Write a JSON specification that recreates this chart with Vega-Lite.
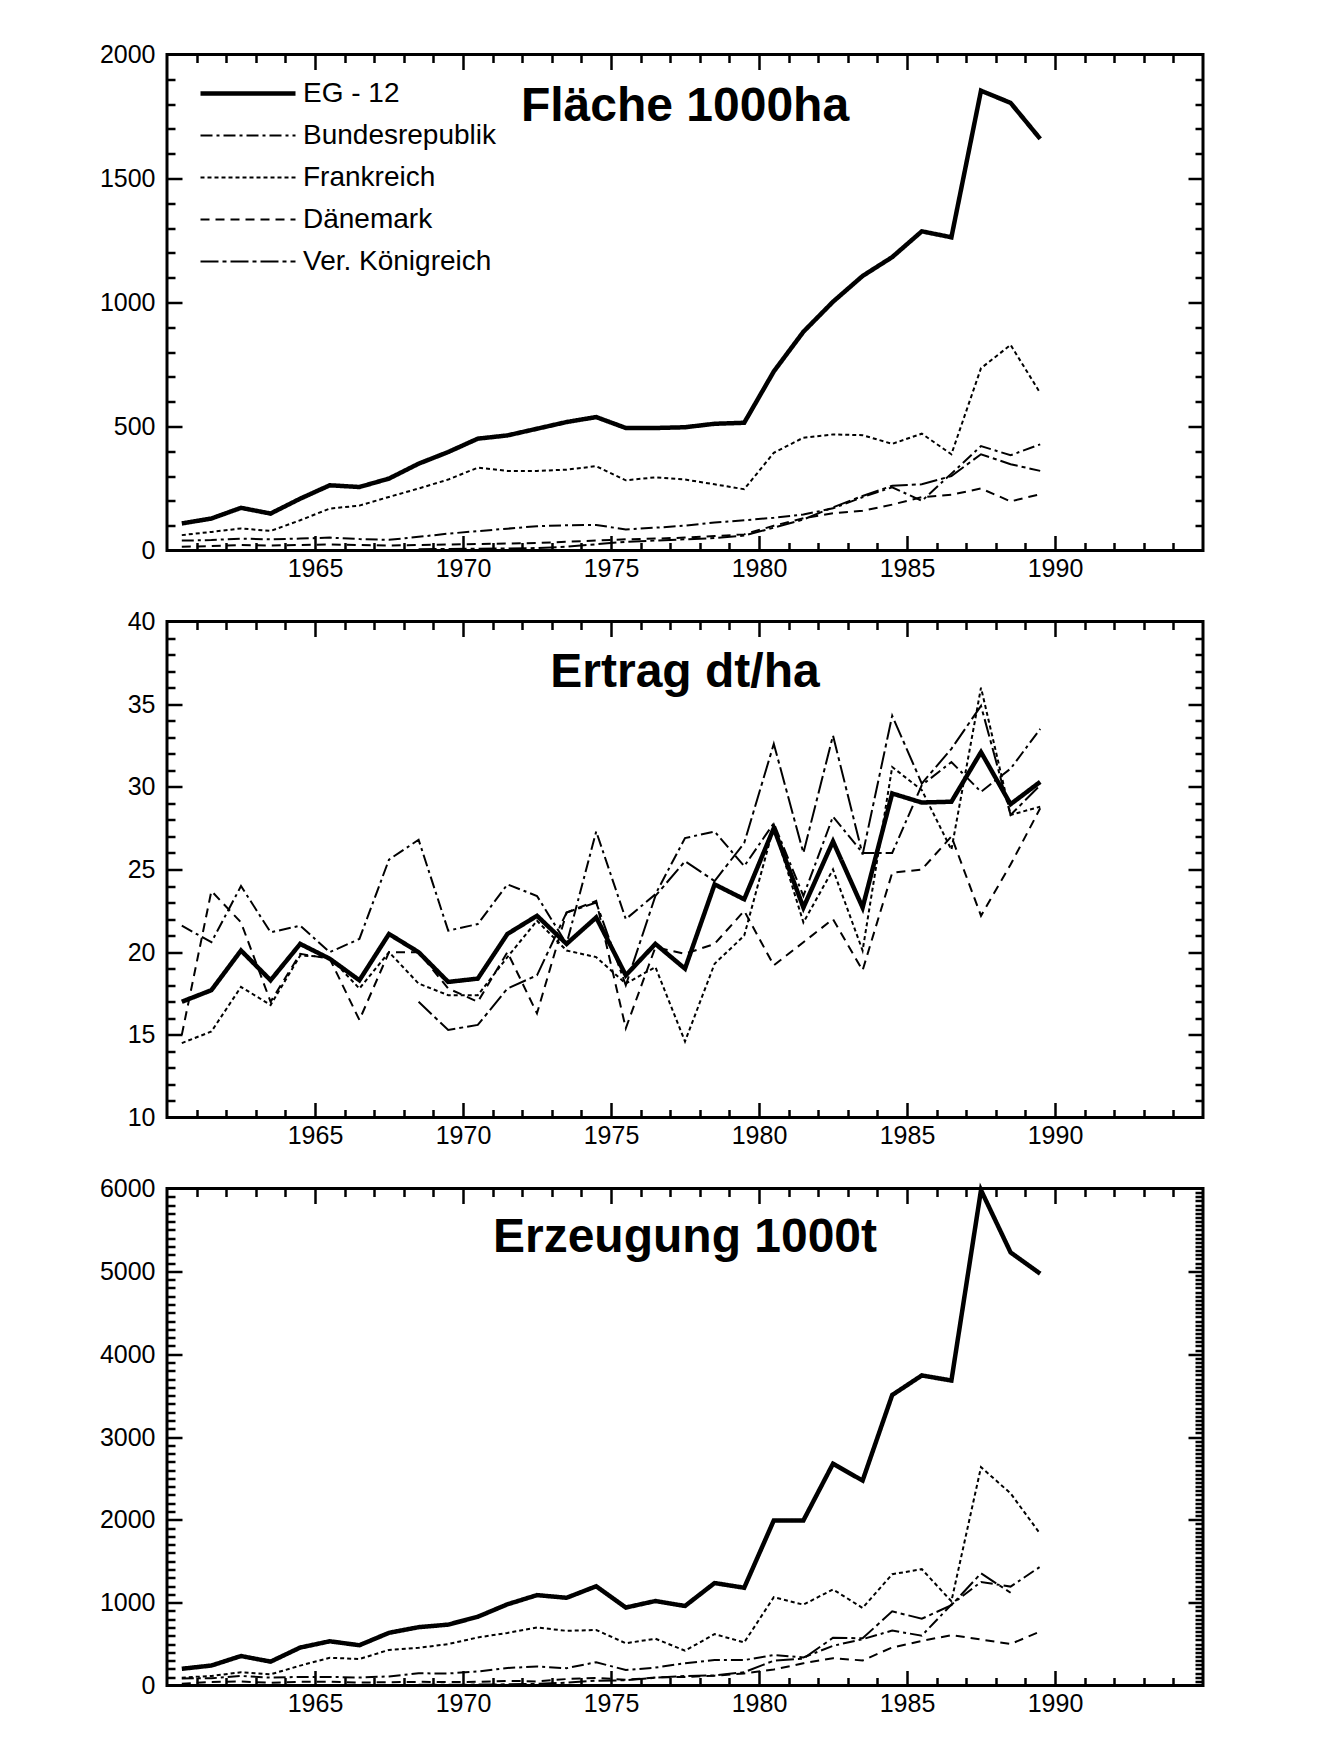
{
  "$schema": "https://vega.github.io/schema/vega-lite/v6.json",
  "background": "white",
  "padding": {"left": 97, "top": 40.5, "right": 0, "bottom": 0},
  "bounds": "flush",
  "spacing": 71,
  "config": {
    "font": "Liberation Sans",
    "view": {"stroke": "black", "strokeWidth": 3},
    "axis": {"domain": false, "grid": false, "labelFont": "Liberation Sans", "labelFontSize": 25, "labelColor": "black", "tickColor": "black", "tickWidth": 2.5, "labelFlush": false, "labelOverlap": false, "title": null},
    "title": {"font": "Liberation Sans", "fontSize": 48, "fontWeight": "bold", "color": "black", "anchor": "middle", "frame": "group", "baseline": "middle"}
  },
  "resolve": {"legend": {"strokeDash": "independent", "strokeWidth": "independent"}},
  "datasets": {
    "flaeche": [
      {"jahr":1960.5,"land":"EG - 12","wert":109},{"jahr":1961.5,"land":"EG - 12","wert":129},{"jahr":1962.5,"land":"EG - 12","wert":172},{"jahr":1963.5,"land":"EG - 12","wert":149},{"jahr":1964.5,"land":"EG - 12","wert":209},{"jahr":1965.5,"land":"EG - 12","wert":263},{"jahr":1966.5,"land":"EG - 12","wert":256},{"jahr":1967.5,"land":"EG - 12","wert":290},{"jahr":1968.5,"land":"EG - 12","wert":350},{"jahr":1969.5,"land":"EG - 12","wert":397},{"jahr":1970.5,"land":"EG - 12","wert":451},{"jahr":1971.5,"land":"EG - 12","wert":464},{"jahr":1972.5,"land":"EG - 12","wert":491},{"jahr":1973.5,"land":"EG - 12","wert":518},{"jahr":1974.5,"land":"EG - 12","wert":538},{"jahr":1975.5,"land":"EG - 12","wert":494},{"jahr":1976.5,"land":"EG - 12","wert":494},{"jahr":1977.5,"land":"EG - 12","wert":497},{"jahr":1978.5,"land":"EG - 12","wert":511},{"jahr":1979.5,"land":"EG - 12","wert":515},{"jahr":1980.5,"land":"EG - 12","wert":722},{"jahr":1981.5,"land":"EG - 12","wert":882},{"jahr":1982.5,"land":"EG - 12","wert":1003},{"jahr":1983.5,"land":"EG - 12","wert":1107},{"jahr":1984.5,"land":"EG - 12","wert":1183},{"jahr":1985.5,"land":"EG - 12","wert":1287},{"jahr":1986.5,"land":"EG - 12","wert":1263},{"jahr":1987.5,"land":"EG - 12","wert":1854},{"jahr":1988.5,"land":"EG - 12","wert":1805},{"jahr":1989.5,"land":"EG - 12","wert":1660},
      {"jahr":1960.5,"land":"Bundesrepublik","wert":40},{"jahr":1961.5,"land":"Bundesrepublik","wert":42},{"jahr":1962.5,"land":"Bundesrepublik","wert":48},{"jahr":1963.5,"land":"Bundesrepublik","wert":45},{"jahr":1964.5,"land":"Bundesrepublik","wert":48},{"jahr":1965.5,"land":"Bundesrepublik","wert":52},{"jahr":1966.5,"land":"Bundesrepublik","wert":46},{"jahr":1967.5,"land":"Bundesrepublik","wert":43},{"jahr":1968.5,"land":"Bundesrepublik","wert":55},{"jahr":1969.5,"land":"Bundesrepublik","wert":68},{"jahr":1970.5,"land":"Bundesrepublik","wert":78},{"jahr":1971.5,"land":"Bundesrepublik","wert":88},{"jahr":1972.5,"land":"Bundesrepublik","wert":98},{"jahr":1973.5,"land":"Bundesrepublik","wert":102},{"jahr":1974.5,"land":"Bundesrepublik","wert":103},{"jahr":1975.5,"land":"Bundesrepublik","wert":85},{"jahr":1976.5,"land":"Bundesrepublik","wert":92},{"jahr":1977.5,"land":"Bundesrepublik","wert":100},{"jahr":1978.5,"land":"Bundesrepublik","wert":113},{"jahr":1979.5,"land":"Bundesrepublik","wert":122},{"jahr":1980.5,"land":"Bundesrepublik","wert":132},{"jahr":1981.5,"land":"Bundesrepublik","wert":145},{"jahr":1982.5,"land":"Bundesrepublik","wert":170},{"jahr":1983.5,"land":"Bundesrepublik","wert":215},{"jahr":1984.5,"land":"Bundesrepublik","wert":255},{"jahr":1985.5,"land":"Bundesrepublik","wert":200},{"jahr":1986.5,"land":"Bundesrepublik","wert":310},{"jahr":1987.5,"land":"Bundesrepublik","wert":421},{"jahr":1988.5,"land":"Bundesrepublik","wert":384},{"jahr":1989.5,"land":"Bundesrepublik","wert":428},
      {"jahr":1960.5,"land":"Frankreich","wert":62},{"jahr":1961.5,"land":"Frankreich","wert":75},{"jahr":1962.5,"land":"Frankreich","wert":89},{"jahr":1963.5,"land":"Frankreich","wert":79},{"jahr":1964.5,"land":"Frankreich","wert":122},{"jahr":1965.5,"land":"Frankreich","wert":169},{"jahr":1966.5,"land":"Frankreich","wert":181},{"jahr":1967.5,"land":"Frankreich","wert":216},{"jahr":1968.5,"land":"Frankreich","wert":250},{"jahr":1969.5,"land":"Frankreich","wert":286},{"jahr":1970.5,"land":"Frankreich","wert":334},{"jahr":1971.5,"land":"Frankreich","wert":321},{"jahr":1972.5,"land":"Frankreich","wert":321},{"jahr":1973.5,"land":"Frankreich","wert":326},{"jahr":1974.5,"land":"Frankreich","wert":340},{"jahr":1975.5,"land":"Frankreich","wert":283},{"jahr":1976.5,"land":"Frankreich","wert":295},{"jahr":1977.5,"land":"Frankreich","wert":286},{"jahr":1978.5,"land":"Frankreich","wert":267},{"jahr":1979.5,"land":"Frankreich","wert":247},{"jahr":1980.5,"land":"Frankreich","wert":394},{"jahr":1981.5,"land":"Frankreich","wert":455},{"jahr":1982.5,"land":"Frankreich","wert":468},{"jahr":1983.5,"land":"Frankreich","wert":465},{"jahr":1984.5,"land":"Frankreich","wert":430},{"jahr":1985.5,"land":"Frankreich","wert":471},{"jahr":1986.5,"land":"Frankreich","wert":388},{"jahr":1987.5,"land":"Frankreich","wert":735},{"jahr":1988.5,"land":"Frankreich","wert":829},{"jahr":1989.5,"land":"Frankreich","wert":635},
      {"jahr":1960.5,"land":"Dänemark","wert":15},{"jahr":1961.5,"land":"Dänemark","wert":18},{"jahr":1962.5,"land":"Dänemark","wert":22},{"jahr":1963.5,"land":"Dänemark","wert":20},{"jahr":1964.5,"land":"Dänemark","wert":22},{"jahr":1965.5,"land":"Dänemark","wert":24},{"jahr":1966.5,"land":"Dänemark","wert":22},{"jahr":1967.5,"land":"Dänemark","wert":20},{"jahr":1968.5,"land":"Dänemark","wert":22},{"jahr":1969.5,"land":"Dänemark","wert":24},{"jahr":1970.5,"land":"Dänemark","wert":26},{"jahr":1971.5,"land":"Dänemark","wert":28},{"jahr":1972.5,"land":"Dänemark","wert":30},{"jahr":1973.5,"land":"Dänemark","wert":35},{"jahr":1974.5,"land":"Dänemark","wert":40},{"jahr":1975.5,"land":"Dänemark","wert":45},{"jahr":1976.5,"land":"Dänemark","wert":48},{"jahr":1977.5,"land":"Dänemark","wert":52},{"jahr":1978.5,"land":"Dänemark","wert":58},{"jahr":1979.5,"land":"Dänemark","wert":65},{"jahr":1980.5,"land":"Dänemark","wert":100},{"jahr":1981.5,"land":"Dänemark","wert":130},{"jahr":1982.5,"land":"Dänemark","wert":150},{"jahr":1983.5,"land":"Dänemark","wert":160},{"jahr":1984.5,"land":"Dänemark","wert":185},{"jahr":1985.5,"land":"Dänemark","wert":215},{"jahr":1986.5,"land":"Dänemark","wert":225},{"jahr":1987.5,"land":"Dänemark","wert":250},{"jahr":1988.5,"land":"Dänemark","wert":198},{"jahr":1989.5,"land":"Dänemark","wert":227},
      {"jahr":1968.5,"land":"Ver. Königreich","wert":5},{"jahr":1969.5,"land":"Ver. Königreich","wert":6},{"jahr":1970.5,"land":"Ver. Königreich","wert":7},{"jahr":1971.5,"land":"Ver. Königreich","wert":8},{"jahr":1972.5,"land":"Ver. Königreich","wert":10},{"jahr":1973.5,"land":"Ver. Königreich","wert":15},{"jahr":1974.5,"land":"Ver. Königreich","wert":25},{"jahr":1975.5,"land":"Ver. Königreich","wert":35},{"jahr":1976.5,"land":"Ver. Königreich","wert":40},{"jahr":1977.5,"land":"Ver. Königreich","wert":45},{"jahr":1978.5,"land":"Ver. Königreich","wert":50},{"jahr":1979.5,"land":"Ver. Königreich","wert":60},{"jahr":1980.5,"land":"Ver. Königreich","wert":92},{"jahr":1981.5,"land":"Ver. Königreich","wert":125},{"jahr":1982.5,"land":"Ver. Königreich","wert":174},{"jahr":1983.5,"land":"Ver. Königreich","wert":220},{"jahr":1984.5,"land":"Ver. Königreich","wert":261},{"jahr":1985.5,"land":"Ver. Königreich","wert":267},{"jahr":1986.5,"land":"Ver. Königreich","wert":300},{"jahr":1987.5,"land":"Ver. Königreich","wert":388},{"jahr":1988.5,"land":"Ver. Königreich","wert":348},{"jahr":1989.5,"land":"Ver. Königreich","wert":321}
    ],
    "ertrag": [
      {"jahr":1960.5,"land":"EG - 12","wert":17.0},{"jahr":1961.5,"land":"EG - 12","wert":17.7},{"jahr":1962.5,"land":"EG - 12","wert":20.1},{"jahr":1963.5,"land":"EG - 12","wert":18.3},{"jahr":1964.5,"land":"EG - 12","wert":20.5},{"jahr":1965.5,"land":"EG - 12","wert":19.6},{"jahr":1966.5,"land":"EG - 12","wert":18.3},{"jahr":1967.5,"land":"EG - 12","wert":21.1},{"jahr":1968.5,"land":"EG - 12","wert":20.0},{"jahr":1969.5,"land":"EG - 12","wert":18.2},{"jahr":1970.5,"land":"EG - 12","wert":18.4},{"jahr":1971.5,"land":"EG - 12","wert":21.1},{"jahr":1972.5,"land":"EG - 12","wert":22.2},{"jahr":1973.5,"land":"EG - 12","wert":20.5},{"jahr":1974.5,"land":"EG - 12","wert":22.1},{"jahr":1975.5,"land":"EG - 12","wert":18.6},{"jahr":1976.5,"land":"EG - 12","wert":20.5},{"jahr":1977.5,"land":"EG - 12","wert":19.0},{"jahr":1978.5,"land":"EG - 12","wert":24.1},{"jahr":1979.5,"land":"EG - 12","wert":23.2},{"jahr":1980.5,"land":"EG - 12","wert":27.5},{"jahr":1981.5,"land":"EG - 12","wert":22.7},{"jahr":1982.5,"land":"EG - 12","wert":26.7},{"jahr":1983.5,"land":"EG - 12","wert":22.7},{"jahr":1984.5,"land":"EG - 12","wert":29.6},{"jahr":1985.5,"land":"EG - 12","wert":29.05},{"jahr":1986.5,"land":"EG - 12","wert":29.1},{"jahr":1987.5,"land":"EG - 12","wert":32.1},{"jahr":1988.5,"land":"EG - 12","wert":28.95},{"jahr":1989.5,"land":"EG - 12","wert":30.3},
      {"jahr":1960.5,"land":"Bundesrepublik","wert":21.6},{"jahr":1961.5,"land":"Bundesrepublik","wert":20.6},{"jahr":1962.5,"land":"Bundesrepublik","wert":24.0},{"jahr":1963.5,"land":"Bundesrepublik","wert":21.2},{"jahr":1964.5,"land":"Bundesrepublik","wert":21.6},{"jahr":1965.5,"land":"Bundesrepublik","wert":20.0},{"jahr":1966.5,"land":"Bundesrepublik","wert":20.8},{"jahr":1967.5,"land":"Bundesrepublik","wert":25.6},{"jahr":1968.5,"land":"Bundesrepublik","wert":26.8},{"jahr":1969.5,"land":"Bundesrepublik","wert":21.3},{"jahr":1970.5,"land":"Bundesrepublik","wert":21.7},{"jahr":1971.5,"land":"Bundesrepublik","wert":24.1},{"jahr":1972.5,"land":"Bundesrepublik","wert":23.4},{"jahr":1973.5,"land":"Bundesrepublik","wert":20.5},{"jahr":1974.5,"land":"Bundesrepublik","wert":27.3},{"jahr":1975.5,"land":"Bundesrepublik","wert":22.0},{"jahr":1976.5,"land":"Bundesrepublik","wert":23.5},{"jahr":1977.5,"land":"Bundesrepublik","wert":26.9},{"jahr":1978.5,"land":"Bundesrepublik","wert":27.3},{"jahr":1979.5,"land":"Bundesrepublik","wert":25.2},{"jahr":1980.5,"land":"Bundesrepublik","wert":27.8},{"jahr":1981.5,"land":"Bundesrepublik","wert":23.4},{"jahr":1982.5,"land":"Bundesrepublik","wert":28.2},{"jahr":1983.5,"land":"Bundesrepublik","wert":26.0},{"jahr":1984.5,"land":"Bundesrepublik","wert":26.0},{"jahr":1985.5,"land":"Bundesrepublik","wert":30.1},{"jahr":1986.5,"land":"Bundesrepublik","wert":31.5},{"jahr":1987.5,"land":"Bundesrepublik","wert":29.7},{"jahr":1988.5,"land":"Bundesrepublik","wert":31.1},{"jahr":1989.5,"land":"Bundesrepublik","wert":33.5},
      {"jahr":1960.5,"land":"Frankreich","wert":14.5},{"jahr":1961.5,"land":"Frankreich","wert":15.2},{"jahr":1962.5,"land":"Frankreich","wert":17.9},{"jahr":1963.5,"land":"Frankreich","wert":16.8},{"jahr":1964.5,"land":"Frankreich","wert":19.8},{"jahr":1965.5,"land":"Frankreich","wert":19.7},{"jahr":1966.5,"land":"Frankreich","wert":17.8},{"jahr":1967.5,"land":"Frankreich","wert":20.0},{"jahr":1968.5,"land":"Frankreich","wert":18.1},{"jahr":1969.5,"land":"Frankreich","wert":17.4},{"jahr":1970.5,"land":"Frankreich","wert":17.4},{"jahr":1971.5,"land":"Frankreich","wert":19.7},{"jahr":1972.5,"land":"Frankreich","wert":21.9},{"jahr":1973.5,"land":"Frankreich","wert":20.1},{"jahr":1974.5,"land":"Frankreich","wert":19.7},{"jahr":1975.5,"land":"Frankreich","wert":18.1},{"jahr":1976.5,"land":"Frankreich","wert":19.1},{"jahr":1977.5,"land":"Frankreich","wert":14.6},{"jahr":1978.5,"land":"Frankreich","wert":19.3},{"jahr":1979.5,"land":"Frankreich","wert":21.0},{"jahr":1980.5,"land":"Frankreich","wert":27.6},{"jahr":1981.5,"land":"Frankreich","wert":21.8},{"jahr":1982.5,"land":"Frankreich","wert":25.0},{"jahr":1983.5,"land":"Frankreich","wert":20.1},{"jahr":1984.5,"land":"Frankreich","wert":31.2},{"jahr":1985.5,"land":"Frankreich","wert":29.8},{"jahr":1986.5,"land":"Frankreich","wert":26.2},{"jahr":1987.5,"land":"Frankreich","wert":36.0},{"jahr":1988.5,"land":"Frankreich","wert":28.3},{"jahr":1989.5,"land":"Frankreich","wert":28.8},
      {"jahr":1960.5,"land":"Dänemark","wert":15.0},{"jahr":1961.5,"land":"Dänemark","wert":23.7},{"jahr":1962.5,"land":"Dänemark","wert":21.8},{"jahr":1963.5,"land":"Dänemark","wert":17.0},{"jahr":1964.5,"land":"Dänemark","wert":19.9},{"jahr":1965.5,"land":"Dänemark","wert":19.6},{"jahr":1966.5,"land":"Dänemark","wert":15.9},{"jahr":1967.5,"land":"Dänemark","wert":20.0},{"jahr":1968.5,"land":"Dänemark","wert":20.0},{"jahr":1969.5,"land":"Dänemark","wert":17.8},{"jahr":1970.5,"land":"Dänemark","wert":17.0},{"jahr":1971.5,"land":"Dänemark","wert":20.0},{"jahr":1972.5,"land":"Dänemark","wert":16.3},{"jahr":1973.5,"land":"Dänemark","wert":22.4},{"jahr":1974.5,"land":"Dänemark","wert":23.1},{"jahr":1975.5,"land":"Dänemark","wert":15.4},{"jahr":1976.5,"land":"Dänemark","wert":20.3},{"jahr":1977.5,"land":"Dänemark","wert":19.9},{"jahr":1978.5,"land":"Dänemark","wert":20.5},{"jahr":1979.5,"land":"Dänemark","wert":22.5},{"jahr":1980.5,"land":"Dänemark","wert":19.2},{"jahr":1981.5,"land":"Dänemark","wert":20.6},{"jahr":1982.5,"land":"Dänemark","wert":22.0},{"jahr":1983.5,"land":"Dänemark","wert":18.9},{"jahr":1984.5,"land":"Dänemark","wert":24.8},{"jahr":1985.5,"land":"Dänemark","wert":25.0},{"jahr":1986.5,"land":"Dänemark","wert":27.0},{"jahr":1987.5,"land":"Dänemark","wert":22.2},{"jahr":1988.5,"land":"Dänemark","wert":25.3},{"jahr":1989.5,"land":"Dänemark","wert":28.7},
      {"jahr":1968.5,"land":"Ver. Königreich","wert":17.0},{"jahr":1969.5,"land":"Ver. Königreich","wert":15.3},{"jahr":1970.5,"land":"Ver. Königreich","wert":15.6},{"jahr":1971.5,"land":"Ver. Königreich","wert":17.8},{"jahr":1972.5,"land":"Ver. Königreich","wert":18.6},{"jahr":1973.5,"land":"Ver. Königreich","wert":22.4},{"jahr":1974.5,"land":"Ver. Königreich","wert":23.0},{"jahr":1975.5,"land":"Ver. Königreich","wert":18.0},{"jahr":1976.5,"land":"Ver. Königreich","wert":23.4},{"jahr":1977.5,"land":"Ver. Königreich","wert":25.5},{"jahr":1978.5,"land":"Ver. Königreich","wert":24.3},{"jahr":1979.5,"land":"Ver. Königreich","wert":26.6},{"jahr":1980.5,"land":"Ver. Königreich","wert":32.6},{"jahr":1981.5,"land":"Ver. Königreich","wert":26.0},{"jahr":1982.5,"land":"Ver. Königreich","wert":33.1},{"jahr":1983.5,"land":"Ver. Königreich","wert":25.9},{"jahr":1984.5,"land":"Ver. Königreich","wert":34.3},{"jahr":1985.5,"land":"Ver. Königreich","wert":30.2},{"jahr":1986.5,"land":"Ver. Königreich","wert":32.3},{"jahr":1987.5,"land":"Ver. Königreich","wert":34.9},{"jahr":1988.5,"land":"Ver. Königreich","wert":28.3},{"jahr":1989.5,"land":"Ver. Königreich","wert":30.1}
    ],
    "erzeugung": [
      {"jahr":1960.5,"land":"EG - 12","wert":202},{"jahr":1961.5,"land":"EG - 12","wert":241},{"jahr":1962.5,"land":"EG - 12","wert":356},{"jahr":1963.5,"land":"EG - 12","wert":288},{"jahr":1964.5,"land":"EG - 12","wert":458},{"jahr":1965.5,"land":"EG - 12","wert":534},{"jahr":1966.5,"land":"EG - 12","wert":486},{"jahr":1967.5,"land":"EG - 12","wert":636},{"jahr":1968.5,"land":"EG - 12","wert":704},{"jahr":1969.5,"land":"EG - 12","wert":735},{"jahr":1970.5,"land":"EG - 12","wert":830},{"jahr":1971.5,"land":"EG - 12","wert":980},{"jahr":1972.5,"land":"EG - 12","wert":1091},{"jahr":1973.5,"land":"EG - 12","wert":1059},{"jahr":1974.5,"land":"EG - 12","wert":1198},{"jahr":1975.5,"land":"EG - 12","wert":941},{"jahr":1976.5,"land":"EG - 12","wert":1020},{"jahr":1977.5,"land":"EG - 12","wert":960},{"jahr":1978.5,"land":"EG - 12","wert":1237},{"jahr":1979.5,"land":"EG - 12","wert":1180},{"jahr":1980.5,"land":"EG - 12","wert":1993},{"jahr":1981.5,"land":"EG - 12","wert":1993},{"jahr":1982.5,"land":"EG - 12","wert":2677},{"jahr":1983.5,"land":"EG - 12","wert":2474},{"jahr":1984.5,"land":"EG - 12","wert":3507},{"jahr":1985.5,"land":"EG - 12","wert":3743},{"jahr":1986.5,"land":"EG - 12","wert":3682},{"jahr":1987.5,"land":"EG - 12","wert":5980},{"jahr":1988.5,"land":"EG - 12","wert":5228},{"jahr":1989.5,"land":"EG - 12","wert":4972},
      {"jahr":1960.5,"land":"Bundesrepublik","wert":86},{"jahr":1961.5,"land":"Bundesrepublik","wert":87},{"jahr":1962.5,"land":"Bundesrepublik","wert":115},{"jahr":1963.5,"land":"Bundesrepublik","wert":95},{"jahr":1964.5,"land":"Bundesrepublik","wert":104},{"jahr":1965.5,"land":"Bundesrepublik","wert":104},{"jahr":1966.5,"land":"Bundesrepublik","wert":96},{"jahr":1967.5,"land":"Bundesrepublik","wert":110},{"jahr":1968.5,"land":"Bundesrepublik","wert":147},{"jahr":1969.5,"land":"Bundesrepublik","wert":145},{"jahr":1970.5,"land":"Bundesrepublik","wert":169},{"jahr":1971.5,"land":"Bundesrepublik","wert":212},{"jahr":1972.5,"land":"Bundesrepublik","wert":229},{"jahr":1973.5,"land":"Bundesrepublik","wert":209},{"jahr":1974.5,"land":"Bundesrepublik","wert":281},{"jahr":1975.5,"land":"Bundesrepublik","wert":187},{"jahr":1976.5,"land":"Bundesrepublik","wert":216},{"jahr":1977.5,"land":"Bundesrepublik","wert":269},{"jahr":1978.5,"land":"Bundesrepublik","wert":308},{"jahr":1979.5,"land":"Bundesrepublik","wert":307},{"jahr":1980.5,"land":"Bundesrepublik","wert":367},{"jahr":1981.5,"land":"Bundesrepublik","wert":339},{"jahr":1982.5,"land":"Bundesrepublik","wert":479},{"jahr":1983.5,"land":"Bundesrepublik","wert":559},{"jahr":1984.5,"land":"Bundesrepublik","wert":663},{"jahr":1985.5,"land":"Bundesrepublik","wert":602},{"jahr":1986.5,"land":"Bundesrepublik","wert":977},{"jahr":1987.5,"land":"Bundesrepublik","wert":1250},{"jahr":1988.5,"land":"Bundesrepublik","wert":1194},{"jahr":1989.5,"land":"Bundesrepublik","wert":1434},
      {"jahr":1960.5,"land":"Frankreich","wert":95},{"jahr":1961.5,"land":"Frankreich","wert":115},{"jahr":1962.5,"land":"Frankreich","wert":160},{"jahr":1963.5,"land":"Frankreich","wert":135},{"jahr":1964.5,"land":"Frankreich","wert":240},{"jahr":1965.5,"land":"Frankreich","wert":335},{"jahr":1966.5,"land":"Frankreich","wert":320},{"jahr":1967.5,"land":"Frankreich","wert":430},{"jahr":1968.5,"land":"Frankreich","wert":455},{"jahr":1969.5,"land":"Frankreich","wert":500},{"jahr":1970.5,"land":"Frankreich","wert":580},{"jahr":1971.5,"land":"Frankreich","wert":635},{"jahr":1972.5,"land":"Frankreich","wert":700},{"jahr":1973.5,"land":"Frankreich","wert":660},{"jahr":1974.5,"land":"Frankreich","wert":670},{"jahr":1975.5,"land":"Frankreich","wert":510},{"jahr":1976.5,"land":"Frankreich","wert":565},{"jahr":1977.5,"land":"Frankreich","wert":420},{"jahr":1978.5,"land":"Frankreich","wert":620},{"jahr":1979.5,"land":"Frankreich","wert":520},{"jahr":1980.5,"land":"Frankreich","wert":1066},{"jahr":1981.5,"land":"Frankreich","wert":976},{"jahr":1982.5,"land":"Frankreich","wert":1160},{"jahr":1983.5,"land":"Frankreich","wert":936},{"jahr":1984.5,"land":"Frankreich","wert":1343},{"jahr":1985.5,"land":"Frankreich","wert":1404},{"jahr":1986.5,"land":"Frankreich","wert":1017},{"jahr":1987.5,"land":"Frankreich","wert":2636},{"jahr":1988.5,"land":"Frankreich","wert":2319},{"jahr":1989.5,"land":"Frankreich","wert":1831},
      {"jahr":1960.5,"land":"Dänemark","wert":22},{"jahr":1961.5,"land":"Dänemark","wert":43},{"jahr":1962.5,"land":"Dänemark","wert":48},{"jahr":1963.5,"land":"Dänemark","wert":34},{"jahr":1964.5,"land":"Dänemark","wert":44},{"jahr":1965.5,"land":"Dänemark","wert":47},{"jahr":1966.5,"land":"Dänemark","wert":35},{"jahr":1967.5,"land":"Dänemark","wert":40},{"jahr":1968.5,"land":"Dänemark","wert":44},{"jahr":1969.5,"land":"Dänemark","wert":43},{"jahr":1970.5,"land":"Dänemark","wert":44},{"jahr":1971.5,"land":"Dänemark","wert":56},{"jahr":1972.5,"land":"Dänemark","wert":49},{"jahr":1973.5,"land":"Dänemark","wert":78},{"jahr":1974.5,"land":"Dänemark","wert":92},{"jahr":1975.5,"land":"Dänemark","wert":69},{"jahr":1976.5,"land":"Dänemark","wert":97},{"jahr":1977.5,"land":"Dänemark","wert":103},{"jahr":1978.5,"land":"Dänemark","wert":119},{"jahr":1979.5,"land":"Dänemark","wert":146},{"jahr":1980.5,"land":"Dänemark","wert":192},{"jahr":1981.5,"land":"Dänemark","wert":268},{"jahr":1982.5,"land":"Dänemark","wert":330},{"jahr":1983.5,"land":"Dänemark","wert":302},{"jahr":1984.5,"land":"Dänemark","wert":459},{"jahr":1985.5,"land":"Dänemark","wert":538},{"jahr":1986.5,"land":"Dänemark","wert":608},{"jahr":1987.5,"land":"Dänemark","wert":555},{"jahr":1988.5,"land":"Dänemark","wert":501},{"jahr":1989.5,"land":"Dänemark","wert":651},
      {"jahr":1968.5,"land":"Ver. Königreich","wert":9},{"jahr":1969.5,"land":"Ver. Königreich","wert":9},{"jahr":1970.5,"land":"Ver. Königreich","wert":11},{"jahr":1971.5,"land":"Ver. Königreich","wert":14},{"jahr":1972.5,"land":"Ver. Königreich","wert":19},{"jahr":1973.5,"land":"Ver. Königreich","wert":34},{"jahr":1974.5,"land":"Ver. Königreich","wert":58},{"jahr":1975.5,"land":"Ver. Königreich","wert":63},{"jahr":1976.5,"land":"Ver. Königreich","wert":94},{"jahr":1977.5,"land":"Ver. Königreich","wert":115},{"jahr":1978.5,"land":"Ver. Königreich","wert":122},{"jahr":1979.5,"land":"Ver. Königreich","wert":160},{"jahr":1980.5,"land":"Ver. Königreich","wert":300},{"jahr":1981.5,"land":"Ver. Königreich","wert":325},{"jahr":1982.5,"land":"Ver. Königreich","wert":576},{"jahr":1983.5,"land":"Ver. Königreich","wert":570},{"jahr":1984.5,"land":"Ver. Königreich","wert":895},{"jahr":1985.5,"land":"Ver. Königreich","wert":806},{"jahr":1986.5,"land":"Ver. Königreich","wert":969},{"jahr":1987.5,"land":"Ver. Königreich","wert":1354},{"jahr":1988.5,"land":"Ver. Königreich","wert":1120}
    ]
  },
  "vconcat": [
    {
      "width": 1036, "height": 496,
      "title": {"text": "Fläche 1000ha", "offset": -88},
      "data": {"name": "flaeche"},
      "resolve": {"axis": {"x": "independent", "y": "independent"}},
      "layer": [
        {
          "mark": {"type": "line", "color": "black"},
          "encoding": {
            "x": {"field": "jahr", "type": "quantitative", "scale": {"domain": [1960, 1995], "nice": false, "zero": false}, "axis": {"orient": "bottom", "values": [1965,1970,1975,1980,1985,1990], "ticks": false, "tickSize": 0, "labelPadding": 5.5, "format": "d"}},
            "y": {"field": "wert", "type": "quantitative", "scale": {"domain": [0, 2000], "nice": false}, "axis": {"orient": "left", "values": [0,500,1000,1500,2000], "ticks": false, "tickSize": 0, "labelPadding": 12, "format": "d"}},
            "strokeDash": {"field": "land", "type": "nominal", "scale": {"domain": ["EG - 12","Bundesrepublik","Frankreich","Dänemark","Ver. Königreich"], "range": [[1,0],[12,4,3,4],[4,3],[9,6],[18,4,4,4]]}, "legend": {"title": null, "orient": "none", "legendX": 31, "legendY": 18, "padding": 0, "symbolType": "stroke", "symbolSize": 9025, "clipHeight": 42, "labelFontSize": 28, "labelFont": "Liberation Sans", "labelColor": "black", "labelLimit": 500, "symbolStrokeColor": "black", "rowPadding": 0, "labelOffset": 5}},
            "strokeWidth": {"field": "land", "type": "nominal", "scale": {"type": "ordinal", "domain": ["EG - 12","Bundesrepublik","Frankreich","Dänemark","Ver. Königreich"], "range": [4.5,2,2,2,2]}, "legend": {"title": null, "orient": "none", "legendX": 31, "legendY": 18, "padding": 0, "symbolType": "stroke", "symbolSize": 9025, "clipHeight": 42, "labelFontSize": 28, "labelFont": "Liberation Sans", "labelColor": "black", "labelLimit": 500, "symbolStrokeColor": "black", "rowPadding": 0, "labelOffset": 5}}
          }
        },
        {
          "mark": {"type": "line", "opacity": 0},
          "encoding": {
            "x": {"field": "jahr", "type": "quantitative", "axis": {"orient": "bottom", "labels": false, "values": [1961,1962,1963,1964,1965,1966,1967,1968,1969,1970,1971,1972,1973,1974,1975,1976,1977,1978,1979,1980,1981,1982,1983,1984,1985,1986,1987,1988,1989,1990,1991,1992,1993,1994], "tickSize": {"condition": {"test": "datum.value % 5 === 0", "value": -15}, "value": -8}}},
            "y": {"field": "wert", "type": "quantitative", "axis": {"orient": "left", "labels": false, "values": [100,200,300,400,500,600,700,800,900,1000,1100,1200,1300,1400,1500,1600,1700,1800,1900], "tickSize": {"condition": {"test": "datum.value % 500 === 0", "value": -15}, "value": -8}}}
          }
        },
        {
          "mark": {"type": "line", "opacity": 0},
          "encoding": {
            "x": {"field": "jahr", "type": "quantitative", "axis": {"orient": "top", "labels": false, "values": [1961,1962,1963,1964,1965,1966,1967,1968,1969,1970,1971,1972,1973,1974,1975,1976,1977,1978,1979,1980,1981,1982,1983,1984,1985,1986,1987,1988,1989,1990,1991,1992,1993,1994], "tickSize": {"condition": {"test": "datum.value % 5 === 0", "value": -15}, "value": -8}}},
            "y": {"field": "wert", "type": "quantitative", "axis": {"orient": "right", "labels": false, "values": [100,200,300,400,500,600,700,800,900,1000,1100,1200,1300,1400,1500,1600,1700,1800,1900], "tickSize": {"condition": {"test": "datum.value % 500 === 0", "value": -15}, "value": -8}}}
          }
        }
      ]
    },
    {
      "width": 1036, "height": 496,
      "title": {"text": "Ertrag dt/ha", "offset": -87},
      "data": {"name": "ertrag"},
      "resolve": {"axis": {"x": "independent", "y": "independent"}},
      "layer": [
        {
          "mark": {"type": "line", "color": "black"},
          "encoding": {
            "x": {"field": "jahr", "type": "quantitative", "scale": {"domain": [1960, 1995], "nice": false, "zero": false}, "axis": {"orient": "bottom", "values": [1965,1970,1975,1980,1985,1990], "ticks": false, "tickSize": 0, "labelPadding": 5.5, "format": "d"}},
            "y": {"field": "wert", "type": "quantitative", "scale": {"domain": [10, 40], "nice": false, "zero": false}, "axis": {"orient": "left", "values": [10,15,20,25,30,35,40], "ticks": false, "tickSize": 0, "labelPadding": 12, "format": "d"}},
            "strokeDash": {"field": "land", "type": "nominal", "scale": {"domain": ["EG - 12","Bundesrepublik","Frankreich","Dänemark","Ver. Königreich"], "range": [[1,0],[12,4,3,4],[4,3],[9,6],[18,4,4,4]]}, "legend": null},
            "strokeWidth": {"field": "land", "type": "nominal", "scale": {"type": "ordinal", "domain": ["EG - 12","Bundesrepublik","Frankreich","Dänemark","Ver. Königreich"], "range": [4.5,2,2,2,2]}, "legend": null}
          }
        },
        {
          "mark": {"type": "line", "opacity": 0},
          "encoding": {
            "x": {"field": "jahr", "type": "quantitative", "axis": {"orient": "bottom", "labels": false, "values": [1961,1962,1963,1964,1965,1966,1967,1968,1969,1970,1971,1972,1973,1974,1975,1976,1977,1978,1979,1980,1981,1982,1983,1984,1985,1986,1987,1988,1989,1990,1991,1992,1993,1994], "tickSize": {"condition": {"test": "datum.value % 5 === 0", "value": -15}, "value": -8}}},
            "y": {"field": "wert", "type": "quantitative", "axis": {"orient": "left", "labels": false, "values": [11,12,13,14,15,16,17,18,19,20,21,22,23,24,25,26,27,28,29,30,31,32,33,34,35,36,37,38,39], "tickSize": {"condition": {"test": "datum.value % 5 === 0", "value": -15}, "value": -8}}}
          }
        },
        {
          "mark": {"type": "line", "opacity": 0},
          "encoding": {
            "x": {"field": "jahr", "type": "quantitative", "axis": {"orient": "top", "labels": false, "values": [1961,1962,1963,1964,1965,1966,1967,1968,1969,1970,1971,1972,1973,1974,1975,1976,1977,1978,1979,1980,1981,1982,1983,1984,1985,1986,1987,1988,1989,1990,1991,1992,1993,1994], "tickSize": {"condition": {"test": "datum.value % 5 === 0", "value": -15}, "value": -8}}},
            "y": {"field": "wert", "type": "quantitative", "axis": {"orient": "right", "labels": false, "values": [11,12,13,14,15,16,17,18,19,20,21,22,23,24,25,26,27,28,29,30,31,32,33,34,35,36,37,38,39], "tickSize": {"condition": {"test": "datum.value % 5 === 0", "value": -15}, "value": -8}}}
          }
        }
      ]
    },
    {
      "width": 1036, "height": 497,
      "title": {"text": "Erzeugung 1000t", "offset": -85},
      "data": {"name": "erzeugung"},
      "resolve": {"axis": {"x": "independent", "y": "independent"}},
      "layer": [
        {
          "mark": {"type": "line", "color": "black"},
          "encoding": {
            "x": {"field": "jahr", "type": "quantitative", "scale": {"domain": [1960, 1995], "nice": false, "zero": false}, "axis": {"orient": "bottom", "values": [1965,1970,1975,1980,1985,1990], "ticks": false, "tickSize": 0, "labelPadding": 5.5, "format": "d"}},
            "y": {"field": "wert", "type": "quantitative", "scale": {"domain": [0, 6000], "nice": false}, "axis": {"orient": "left", "values": [0,1000,2000,3000,4000,5000,6000], "ticks": false, "tickSize": 0, "labelPadding": 12, "format": "d"}},
            "strokeDash": {"field": "land", "type": "nominal", "scale": {"domain": ["EG - 12","Bundesrepublik","Frankreich","Dänemark","Ver. Königreich"], "range": [[1,0],[12,4,3,4],[4,3],[9,6],[18,4,4,4]]}, "legend": null},
            "strokeWidth": {"field": "land", "type": "nominal", "scale": {"type": "ordinal", "domain": ["EG - 12","Bundesrepublik","Frankreich","Dänemark","Ver. Königreich"], "range": [4.5,2,2,2,2]}, "legend": null}
          }
        },
        {
          "mark": {"type": "line", "opacity": 0},
          "encoding": {
            "x": {"field": "jahr", "type": "quantitative", "axis": {"orient": "bottom", "labels": false, "values": [1961,1962,1963,1964,1965,1966,1967,1968,1969,1970,1971,1972,1973,1974,1975,1976,1977,1978,1979,1980,1981,1982,1983,1984,1985,1986,1987,1988,1989,1990,1991,1992,1993,1994], "tickSize": {"condition": {"test": "datum.value % 5 === 0", "value": -15}, "value": -8}}},
            "y": {"field": "wert", "type": "quantitative", "axis": {"orient": "left", "labels": false, "values": [100,200,300,400,500,600,700,800,900,1000,1100,1200,1300,1400,1500,1600,1700,1800,1900,2000,2100,2200,2300,2400,2500,2600,2700,2800,2900,3000,3100,3200,3300,3400,3500,3600,3700,3800,3900,4000,4100,4200,4300,4400,4500,4600,4700,4800,4900,5000,5100,5200,5300,5400,5500,5600,5700,5800,5900], "tickSize": {"condition": {"test": "datum.value % 1000 === 0", "value": -15}, "value": -8}}}
          }
        },
        {
          "mark": {"type": "line", "opacity": 0},
          "encoding": {
            "x": {"field": "jahr", "type": "quantitative", "axis": {"orient": "top", "labels": false, "values": [1961,1962,1963,1964,1965,1966,1967,1968,1969,1970,1971,1972,1973,1974,1975,1976,1977,1978,1979,1980,1981,1982,1983,1984,1985,1986,1987,1988,1989,1990,1991,1992,1993,1994], "tickSize": {"condition": {"test": "datum.value % 5 === 0", "value": -15}, "value": -8}}},
            "y": {"field": "wert", "type": "quantitative", "axis": {"orient": "right", "labels": false, "values": [50,100,150,200,250,300,350,400,450,500,550,600,650,700,750,800,850,900,950,1000,1050,1100,1150,1200,1250,1300,1350,1400,1450,1500,1550,1600,1650,1700,1750,1800,1850,1900,1950,2000,2050,2100,2150,2200,2250,2300,2350,2400,2450,2500,2550,2600,2650,2700,2750,2800,2850,2900,2950,3000,3050,3100,3150,3200,3250,3300,3350,3400,3450,3500,3550,3600,3650,3700,3750,3800,3850,3900,3950,4000,4050,4100,4150,4200,4250,4300,4350,4400,4450,4500,4550,4600,4650,4700,4750,4800,4850,4900,4950,5000,5050,5100,5150,5200,5250,5300,5350,5400,5450,5500,5550,5600,5650,5700,5750,5800,5850,5900,5950], "tickSize": {"condition": {"test": "datum.value % 1000 === 0", "value": -15}, "value": -8}}}
          }
        }
      ]
    }
  ]
}
